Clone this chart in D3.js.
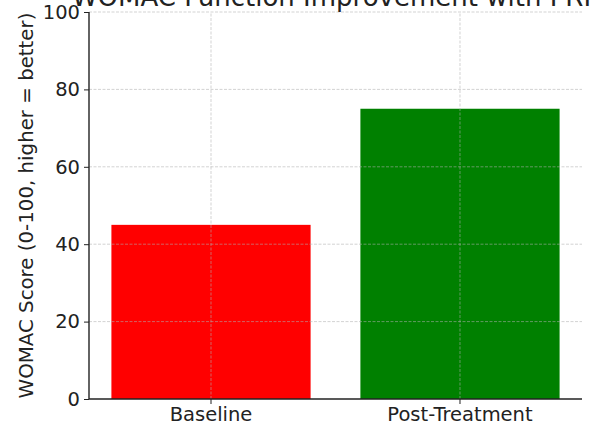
<!DOCTYPE html>
<html>
<head>
<meta charset="utf-8">
<script src="https://cdn.jsdelivr.net/npm/d3@7"></script>
<style>
  html, body { margin: 0; padding: 0; background: #fff; overflow: hidden; }
  text { font-family: "DejaVu Sans", sans-serif; fill: #222; }
</style>
</head>
<body>
<div id="chart"></div>
<script>
// data
const categories = ["Baseline", "Post-Treatment"];
const scores = [45, 75];
const barColors = ["#ff0000", "#008000"];
const yTicks = [0, 20, 40, 60, 80, 100];

const width = 600,
  height = 443;
const margin = { top: 12, right: 18, bottom: 45, left: 89 };

const svg = d3
  .select("#chart")
  .append("svg")
  .attr("width", width)
  .attr("height", height);

const x = d3
  .scaleBand()
  .domain(categories)
  .range([margin.left, width - margin.right])
  .paddingInner(0.2)
  .paddingOuter(0.09);

const y = d3
  .scaleLinear()
  .domain([0, 100])
  .range([height - margin.bottom + 1, margin.top]);

// bars
svg
  .selectAll("rect.bar")
  .data(scores)
  .enter()
  .append("rect")
  .attr("class", "bar")
  .attr("x", (d, i) => x(categories[i]))
  .attr("y", (d) => y(d))
  .attr("width", x.bandwidth())
  .attr("height", (d) => y(0) - y(d))
  .attr("fill", (d, i) => barColors[i]);

// grid (drawn over bars like the original)
const grid = svg.append("g").attr("class", "grid");
grid
  .selectAll("line.h")
  .data(yTicks.filter((t) => t > 0))
  .enter()
  .append("line")
  .attr("x1", margin.left)
  .attr("x2", width - margin.right)
  .attr("y1", (d) => y(d))
  .attr("y2", (d) => y(d));
grid
  .selectAll("line.v")
  .data(categories)
  .enter()
  .append("line")
  .attr("x1", (d) => x(d) + x.bandwidth() / 2)
  .attr("x2", (d) => x(d) + x.bandwidth() / 2)
  .attr("y1", y(0))
  .attr("y2", y(100));
grid
  .selectAll("line")
  .attr("stroke", "#b0b0b0")
  .attr("stroke-opacity", 0.7)
  .attr("stroke-width", 0.8)
  .attr("stroke-dasharray", "3,1.5");

// axes
const yAxis = svg
  .append("g")
  .attr("transform", `translate(${margin.left},0)`)
  .call(d3.axisLeft(y).tickValues(yTicks).tickSize(5).tickPadding(4));
const xAxis = svg
  .append("g")
  .attr("transform", `translate(0,${y(0)})`)
  .call(d3.axisBottom(x).tickSize(5).tickPadding(3));

[yAxis, xAxis].forEach((g) => {
  g.selectAll("text").style("font-size", "19.5px").attr("fill", "#222");
  g.selectAll("line").attr("stroke", "#222").attr("stroke-width", 1);
  g.select(".domain").attr("stroke", "#222").attr("stroke-width", 1.4);
});
xAxis.select(".domain").attr("d", `M${margin.left},0H${width - margin.right}`);
yAxis.select(".domain").attr("d", `M0,${y(0)}V${y(100)}`);

// axis label
svg
  .append("text")
  .attr("transform", `translate(33,${(y(0) + y(100)) / 2}) rotate(-90)`)
  .attr("text-anchor", "middle")
  .style("font-size", "19.8px")
  .text("WOMAC Score (0-100, higher = better)");

// title (partly cut off at the top)
svg
  .append("text")
  .attr("x", (margin.left + width - margin.right) / 2)
  .attr("y", 6)
  .attr("text-anchor", "middle")
  .style("font-size", "26px")
  .text("WOMAC Function Improvement with PRP");
</script>
</body>
</html>
